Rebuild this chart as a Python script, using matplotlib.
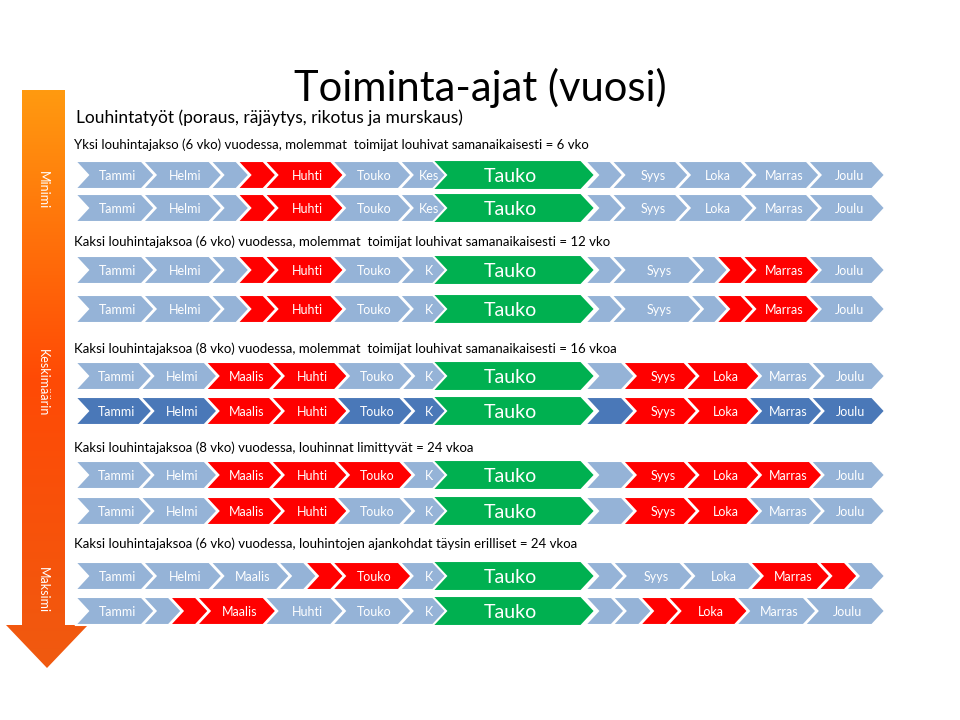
import numpy as np
import matplotlib.pyplot as plt
from matplotlib.patches import Polygon
from matplotlib.colors import LinearSegmentedColormap

plt.rcParams["font.family"] = "Lato"

title = "Toiminta-ajat (vuosi)"
subtitle = "Louhintatyöt (poraus, räjäytys, rikotus ja murskaus)"
headings = [
    "Yksi louhintajakso (6 vko) vuodessa, molemmat  toimijat louhivat samanaikaisesti = 6 vko",
    "Kaksi louhintajaksoa (6 vko) vuodessa, molemmat  toimijat louhivat samanaikaisesti = 12 vko",
    "Kaksi louhintajaksoa (8 vko) vuodessa, molemmat  toimijat louhivat samanaikaisesti = 16 vkoa",
    "Kaksi louhintajaksoa (8 vko) vuodessa, louhinnat limittyvät = 24 vkoa",
    "Kaksi louhintajaksoa (6 vko) vuodessa, louhintojen ajankohdat täysin erilliset = 24 vkoa",
]
side_labels = ["Minimi", "Keskimäärin", "Maksimi"]

# each segment: (label, width units, colour code) b=blue, r=red, d=dark blue
row_left = [
    [("Tammi", 1, "b"), ("Helmi", 1, "b"), ("", .4, "b"), ("", .4, "r"), ("Huhti", 1, "r"), ("Touko", 1, "b"), ("Kes", .6, "b")],
    [("Tammi", 1, "b"), ("Helmi", 1, "b"), ("", .4, "b"), ("", .4, "r"), ("Huhti", 1, "r"), ("Touko", 1, "b"), ("Kes", .6, "b")],
    [("Tammi", 1, "b"), ("Helmi", 1, "b"), ("", .4, "b"), ("", .4, "r"), ("Huhti", 1, "r"), ("Touko", 1, "b"), ("K", .6, "b")],
    [("Tammi", 1, "b"), ("Helmi", 1, "b"), ("", .4, "b"), ("", .4, "r"), ("Huhti", 1, "r"), ("Touko", 1, "b"), ("K", .6, "b")],
    [("Tammi", 1, "b"), ("Helmi", 1, "b"), ("Maalis", 1, "r"), ("Huhti", 1, "r"), ("Touko", 1, "b"), ("K", .6, "b")],
    [("Tammi", 1, "d"), ("Helmi", 1, "d"), ("Maalis", 1, "r"), ("Huhti", 1, "r"), ("Touko", 1, "d"), ("K", .6, "d")],
    [("Tammi", 1, "b"), ("Helmi", 1, "b"), ("Maalis", 1, "r"), ("Huhti", 1, "r"), ("Touko", 1, "r"), ("K", .6, "b")],
    [("Tammi", 1, "b"), ("Helmi", 1, "b"), ("Maalis", 1, "r"), ("Huhti", 1, "r"), ("Touko", 1, "b"), ("K", .6, "b")],
    [("Tammi", 1, "b"), ("Helmi", 1, "b"), ("Maalis", 1, "b"), ("", .4, "b"), ("", .4, "r"), ("Touko", 1, "r"), ("K", .6, "b")],
    [("Tammi", 1, "b"), ("", .4, "b"), ("", .4, "r"), ("Maalis", 1, "r"), ("Huhti", 1, "b"), ("Touko", 1, "b"), ("K", .6, "b")],
]
row_right = [
    [("", .4, "b"), ("Syys", 1, "b"), ("Loka", 1, "b"), ("Marras", 1, "b"), ("Joulu", 1, "b")],
    [("", .4, "b"), ("Syys", 1, "b"), ("Loka", 1, "b"), ("Marras", 1, "b"), ("Joulu", 1, "b")],
    [("", .4, "b"), ("Syys", 1.2, "b"), ("", .4, "b"), ("", .4, "r"), ("Marras", 1, "r"), ("Joulu", 1, "b")],
    [("", .4, "b"), ("Syys", 1.2, "b"), ("", .4, "b"), ("", .4, "r"), ("Marras", 1, "r"), ("Joulu", 1, "b")],
    [("", .6, "b"), ("Syys", 1, "r"), ("Loka", 1, "r"), ("Marras", 1, "b"), ("Joulu", 1, "b")],
    [("", .6, "d"), ("Syys", 1, "r"), ("Loka", 1, "r"), ("Marras", 1, "d"), ("Joulu", 1, "d")],
    [("", .6, "b"), ("Syys", 1, "r"), ("Loka", 1, "r"), ("Marras", 1, "r"), ("Joulu", 1, "b")],
    [("", .6, "b"), ("Syys", 1, "r"), ("Loka", 1, "r"), ("Marras", 1, "b"), ("Joulu", 1, "b")],
    [("", .4, "b"), ("Syys", 1, "b"), ("Loka", 1, "b"), ("Marras", 1, "r"), ("", .4, "r"), ("", .4, "b")],
    [("", .4, "b"), ("", .4, "b"), ("", .4, "r"), ("Loka", 1, "r"), ("Marras", 1, "b"), ("Joulu", 1, "b")],
]
pause_label = "Tauko"

colors = {"b": "#95b3d7", "r": "#ff0000", "d": "#4a78b8"}
row_y = [175, 208, 270, 309, 376, 411, 475, 511, 576, 611]
head_y = [145, 242, 349, 448, 544]
side_y = [190, 383, 590]

fig = plt.figure(figsize=(9.6, 7.2), dpi=100)
ax = fig.add_axes([0, 0, 1, 1])

# gradient arrow on the left
grad = np.linspace(0, 1, 256).reshape(-1, 1)
arrow = Polygon([(22, 90), (65, 90), (65, 625), (88, 625), (47, 668), (6, 625), (22, 625)], closed=True,
                facecolor="none", edgecolor="none")
ax.add_patch(arrow)
cmap = LinearSegmentedColormap.from_list("o", ["#ff9a10", "#ff4a05", "#f05a10"])
im = ax.imshow(grad, extent=(6, 88, 668, 90), cmap=cmap, aspect="auto", zorder=1)
im.set_clip_path(arrow)
ax.set_xlim(0, 960)
ax.set_ylim(720, 0)
ax.axis("off")
for lab, y in zip(side_labels, side_y):
    ax.text(43, y, lab, rotation=-90, color="white", ha="center", va="center", fontsize=9, zorder=3)


def chevron(x0, x1, yc, color, h=28, d=13, lw=1.5):
    top, bot = yc - h / 2, yc + h / 2
    pts = [(x0, top), (x1 - d, top), (x1, yc), (x1 - d, bot), (x0, bot), (x0 + d, yc)]
    ax.add_patch(Polygon(pts, closed=True, facecolor=color, edgecolor="white", lw=lw, zorder=2))


def draw_part(segs, xa, xb, yc):
    total = sum(s[1] for s in segs)
    unit = (xb - xa) / total
    x = xa
    for lab, w, c in segs:
        chevron(x, x + w * unit + 12, yc, colors[c])
        if lab:
            ax.text(x + (w * unit + 12) / 2 + 3, yc, lab, color="white", ha="center",
                    va="center_baseline", fontsize=9, zorder=3)
        x += w * unit


for left, right, yc in zip(row_left, row_right, row_y):
    draw_part(left, 75, 440, yc)
    draw_part(right, 585, 873, yc)
    chevron(432, 595, yc, "#00b050", h=30, d=14)
    ax.text(510, yc, pause_label, color="white", ha="center", va="center_baseline", fontsize=14, zorder=3)

ax.text(480, 88, title, ha="center", va="center", fontsize=30)
ax.text(76, 118, subtitle, ha="left", va="center", fontsize=12.5)
for h, y in zip(headings, head_y):
    ax.text(74, y, h, ha="left", va="center", fontsize=9.5)

fig.savefig("out.png", dpi=100, facecolor="white")
